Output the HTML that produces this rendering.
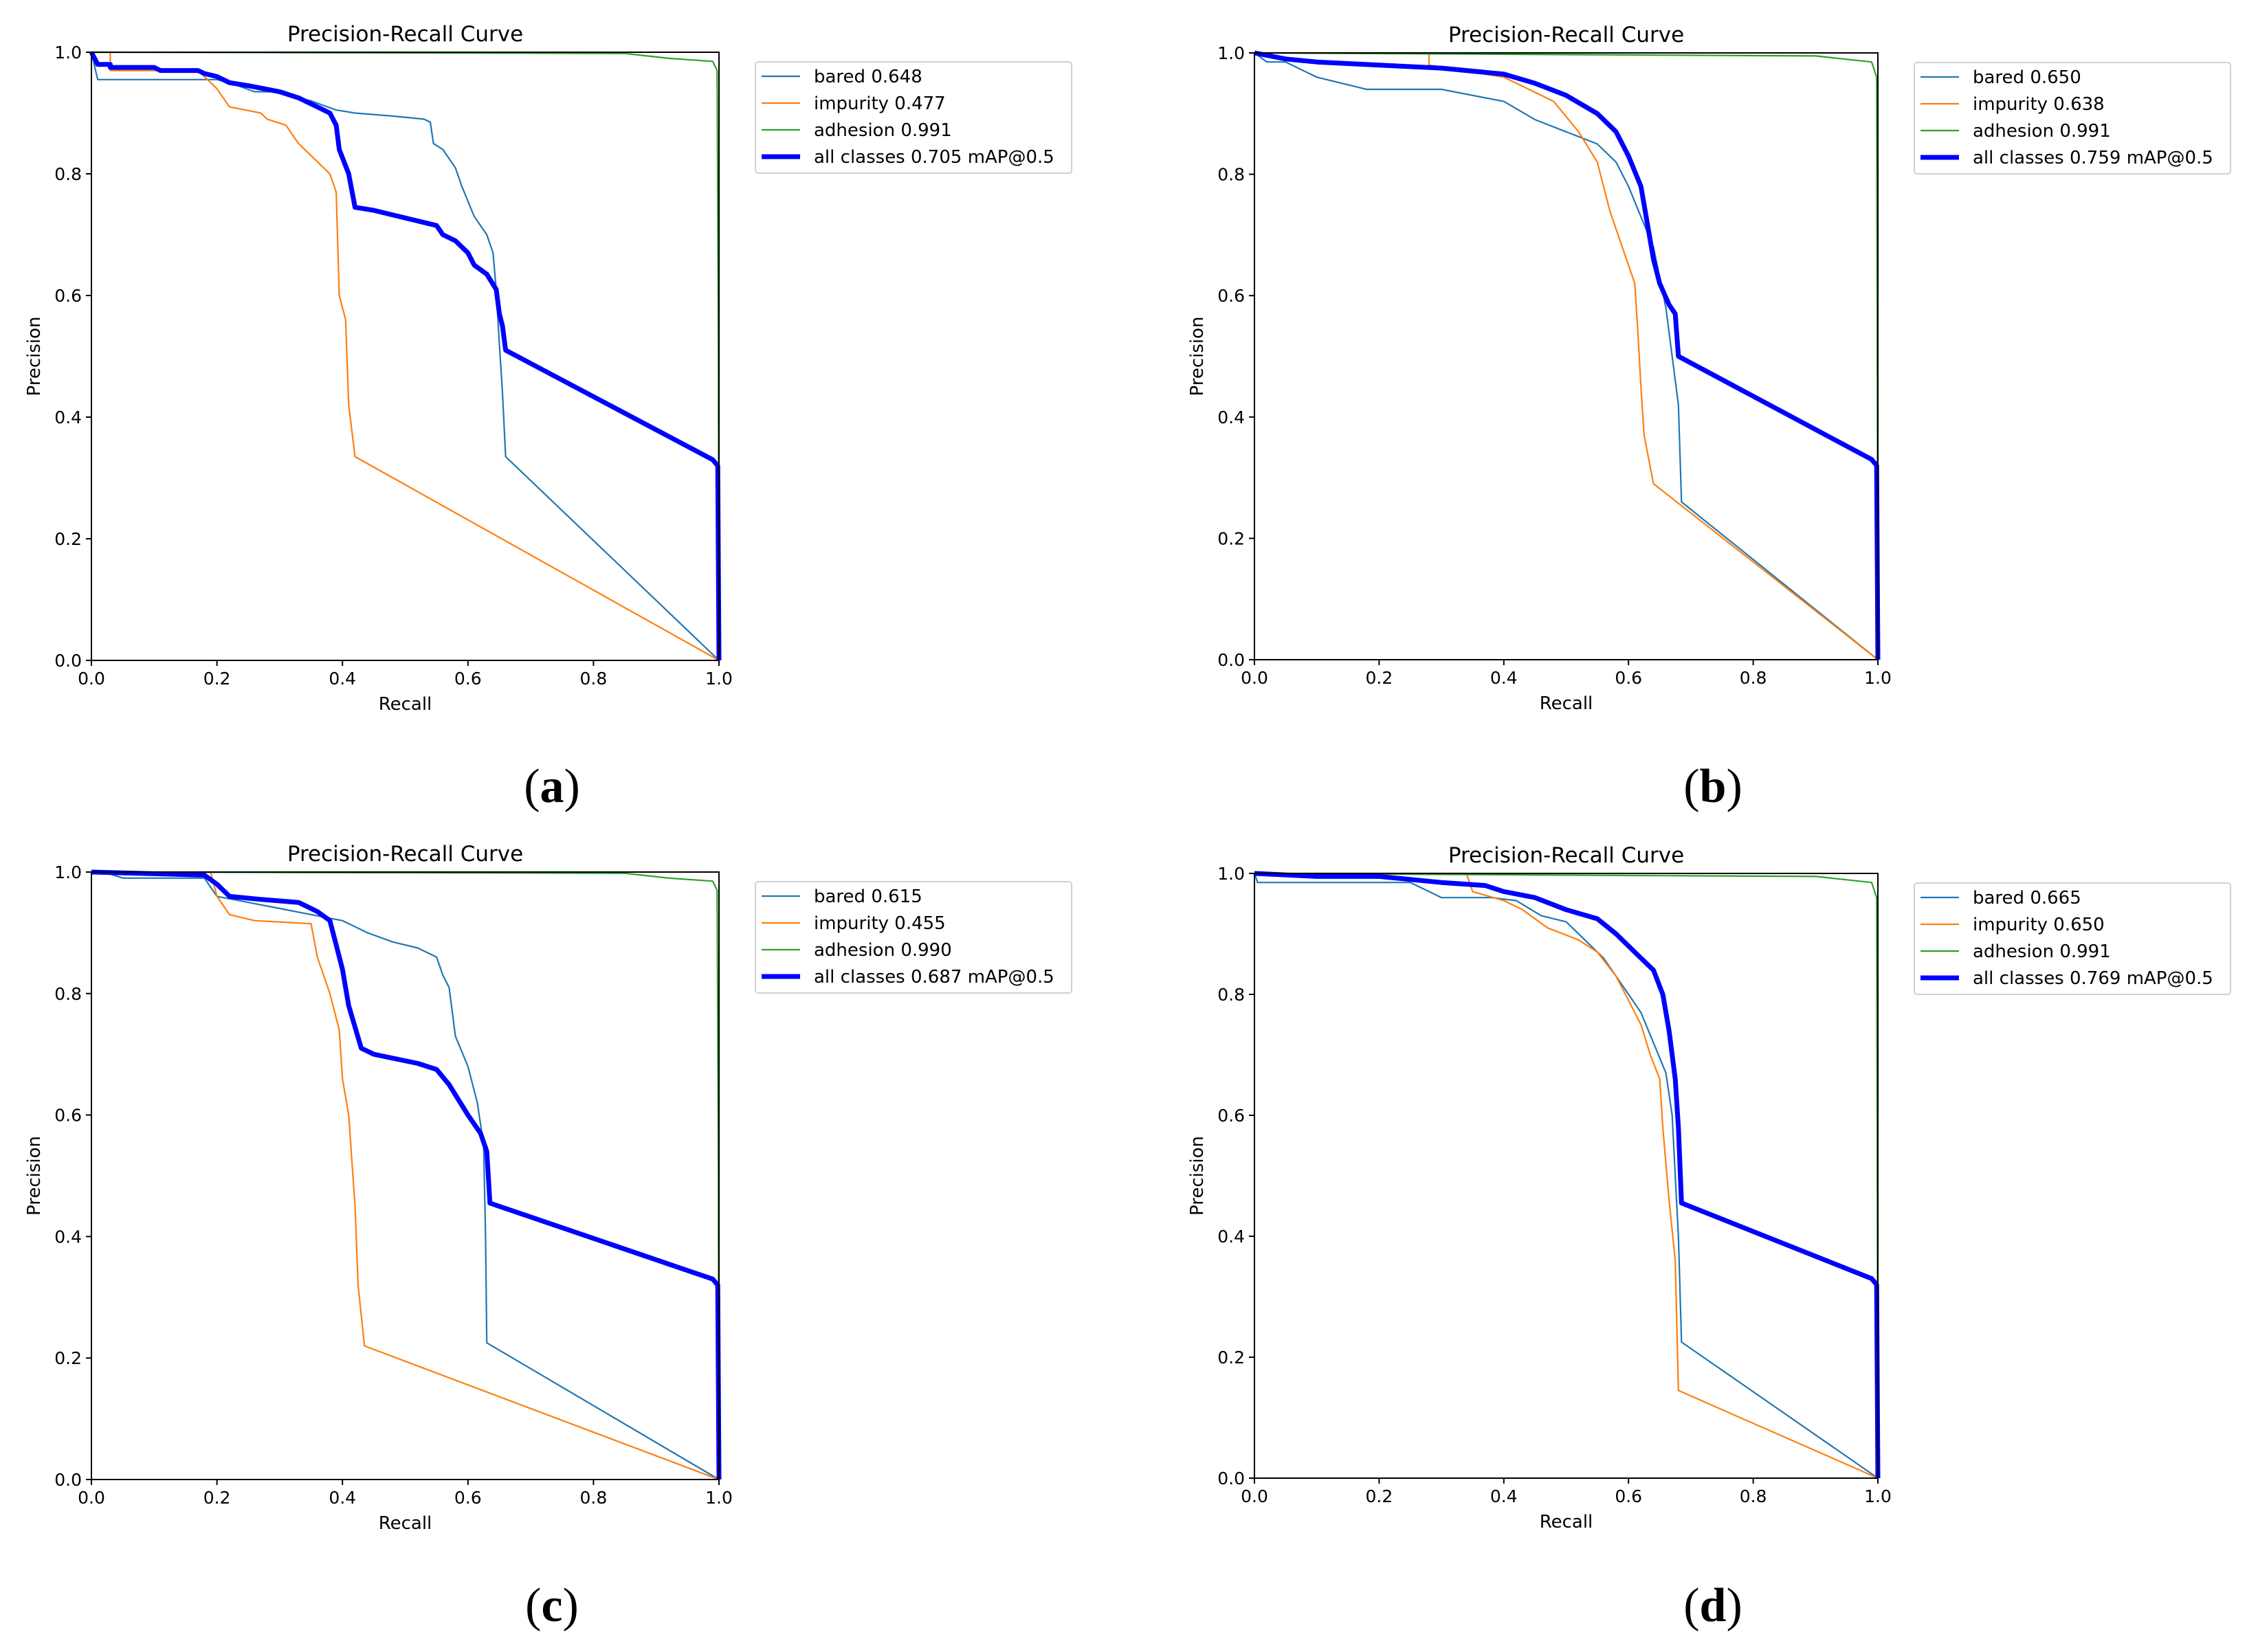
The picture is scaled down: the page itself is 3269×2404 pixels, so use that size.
<!DOCTYPE html>
<html><head><meta charset="utf-8"><style>
html,body{margin:0;padding:0;background:#fff;}
svg{display:block;}
</style></head><body>
<svg id="fig" width="3269" height="2404" viewBox="0 0 3269 2404" xmlns="http://www.w3.org/2000/svg" font-family="'DejaVu Sans','Liberation Sans',sans-serif"></svg>
<script>
const tickLabels = ["0.0","0.2","0.4","0.6","0.8","1.0"];
const tickValues = [0,0.2,0.4,0.6,0.8,1.0];
const seriesNames = ["bared","impurity","adhesion","all classes"];
const seriesColors = ["#1f77b4","#ff7f0e","#2ca02c","#0000ff"];
const panelLetters = ["(a)","(b)","(c)","(d)"];
const legendA = ["bared 0.648","impurity 0.477","adhesion 0.991","all classes 0.705 mAP@0.5"];
const legendB = ["bared 0.650","impurity 0.638","adhesion 0.991","all classes 0.759 mAP@0.5"];
const legendC = ["bared 0.615","impurity 0.455","adhesion 0.990","all classes 0.687 mAP@0.5"];
const legendD = ["bared 0.665","impurity 0.650","adhesion 0.991","all classes 0.769 mAP@0.5"];

// panel a
const aBaredR=[0,0.01,0.2,0.22,0.26,0.3,0.31,0.35,0.39,0.42,0.48,0.53,0.54,0.545,0.56,0.58,0.59,0.61,0.63,0.64,0.645,0.65,0.655,0.66,1.0];
const aBaredP=[1.0,0.955,0.955,0.95,0.935,0.935,0.93,0.92,0.905,0.9,0.895,0.89,0.885,0.85,0.84,0.81,0.78,0.73,0.7,0.67,0.61,0.52,0.44,0.335,0.0];
const aImpR=[0,0.03,0.03,0.17,0.2,0.22,0.27,0.28,0.31,0.33,0.36,0.38,0.39,0.395,0.405,0.41,0.42,1.0];
const aImpP=[1,1,0.97,0.97,0.94,0.91,0.9,0.89,0.88,0.85,0.82,0.8,0.77,0.6,0.56,0.42,0.335,0.0];
const aAdhR=[0,0.85,0.92,0.99,0.997,0.999,1.0];
const aAdhP=[1,0.998,0.99,0.985,0.97,0.5,0.0];
const aAllR=[0,0.01,0.03,0.03,0.1,0.11,0.17,0.18,0.2,0.22,0.25,0.3,0.33,0.36,0.38,0.39,0.395,0.41,0.42,0.45,0.55,0.56,0.58,0.6,0.61,0.63,0.645,0.65,0.655,0.66,0.99,0.998,1.0];
const aAllP=[1,0.98,0.98,0.975,0.975,0.97,0.97,0.965,0.96,0.95,0.945,0.935,0.925,0.91,0.9,0.88,0.84,0.8,0.745,0.74,0.715,0.7,0.69,0.67,0.65,0.635,0.61,0.57,0.55,0.51,0.33,0.32,0.0];
// panel b
const bBaredR=[0,0.02,0.05,0.1,0.18,0.3,0.4,0.45,0.5,0.55,0.58,0.6,0.62,0.64,0.66,0.67,0.68,0.685,1];
const bBaredP=[1,0.985,0.985,0.96,0.94,0.94,0.92,0.89,0.87,0.85,0.82,0.78,0.73,0.68,0.58,0.5,0.42,0.26,0];
const bImpR=[0,0.28,0.28,0.4,0.48,0.52,0.55,0.57,0.59,0.61,0.615,0.62,0.625,0.64,1];
const bImpP=[1,1,0.98,0.96,0.92,0.87,0.82,0.74,0.68,0.62,0.54,0.45,0.37,0.29,0];
const bAdhR=[0,0.9,0.99,0.998,1];
const bAdhP=[1,0.995,0.985,0.96,0];
const bAllR=[0,0.05,0.1,0.2,0.3,0.4,0.45,0.5,0.55,0.58,0.6,0.62,0.63,0.64,0.65,0.665,0.675,0.68,0.99,0.998,1];
const bAllP=[1,0.99,0.985,0.98,0.975,0.965,0.95,0.93,0.9,0.87,0.83,0.78,0.72,0.66,0.62,0.585,0.57,0.5,0.33,0.32,0];
// panel c
const cBaredR=[0,0.02,0.05,0.18,0.2,0.25,0.3,0.35,0.4,0.44,0.48,0.52,0.55,0.56,0.57,0.58,0.6,0.615,0.625,0.628,0.63,1];
const cBaredP=[1,1,0.99,0.99,0.96,0.95,0.94,0.93,0.92,0.9,0.885,0.875,0.86,0.83,0.81,0.73,0.68,0.62,0.55,0.4,0.225,0];
const cImpR=[0,0.19,0.2,0.22,0.26,0.35,0.36,0.38,0.395,0.4,0.41,0.42,0.425,0.435,1];
const cImpP=[1,1,0.96,0.93,0.92,0.915,0.86,0.8,0.74,0.66,0.6,0.45,0.32,0.22,0];
const cAdhR=[0,0.85,0.92,0.99,0.997,0.999,1.0];
const cAdhP=[1,0.998,0.99,0.985,0.97,0.5,0.0];
const cAllR=[0,0.18,0.2,0.22,0.27,0.33,0.36,0.38,0.39,0.4,0.41,0.43,0.45,0.52,0.55,0.57,0.6,0.62,0.63,0.635,0.99,0.998,1];
const cAllP=[1,0.995,0.98,0.96,0.955,0.95,0.935,0.92,0.88,0.84,0.78,0.71,0.7,0.685,0.675,0.65,0.6,0.57,0.54,0.455,0.33,0.32,0];
// panel d
const dBaredR=[0,0.005,0.25,0.28,0.3,0.38,0.42,0.46,0.5,0.53,0.56,0.58,0.6,0.62,0.64,0.66,0.67,0.675,0.68,0.685,1];
const dBaredP=[1,0.985,0.985,0.97,0.96,0.96,0.955,0.93,0.92,0.89,0.86,0.83,0.8,0.77,0.72,0.67,0.6,0.5,0.4,0.225,0];
const dImpR=[0,0.34,0.35,0.4,0.43,0.47,0.52,0.55,0.58,0.6,0.62,0.635,0.65,0.655,0.665,0.675,0.68,1];
const dImpP=[1,1,0.97,0.955,0.94,0.91,0.89,0.87,0.83,0.79,0.75,0.7,0.66,0.58,0.46,0.36,0.145,0];
const dAdhR=[0,0.9,0.99,0.998,1];
const dAdhP=[1,0.995,0.985,0.96,0];
const dAllR=[0,0.1,0.2,0.3,0.37,0.4,0.45,0.5,0.55,0.58,0.62,0.64,0.655,0.665,0.675,0.68,0.685,0.99,0.998,1];
const dAllP=[1,0.995,0.995,0.985,0.98,0.97,0.96,0.94,0.925,0.9,0.86,0.84,0.8,0.74,0.66,0.58,0.455,0.33,0.32,0];

const panels=[
 {L:133,R:1046,T:76,B:961,legend:legendA,series:[[aBaredR,aBaredP],[aImpR,aImpP],[aAdhR,aAdhP],[aAllR,aAllP]],lx:803,ly:1143},
 {L:1825,R:2732,T:77,B:960,legend:legendB,series:[[bBaredR,bBaredP],[bImpR,bImpP],[bAdhR,bAdhP],[bAllR,bAllP]],lx:2492,ly:1143},
 {L:133,R:1046,T:1269,B:2153,legend:legendC,series:[[cBaredR,cBaredP],[cImpR,cImpP],[cAdhR,cAdhP],[cAllR,cAllP]],lx:803,ly:2335},
 {L:1825,R:2732,T:1271,B:2151,legend:legendD,series:[[dBaredR,dBaredP],[dImpR,dImpP],[dAdhR,dAdhP],[dAllR,dAllP]],lx:2492,ly:2335}
];
const NS="http://www.w3.org/2000/svg";
const svg=document.getElementById('fig');
function mk(tag,attrs,parent){const e=document.createElementNS(NS,tag);for(const k in attrs)e.setAttribute(k,attrs[k]);(parent||svg).appendChild(e);return e;}
panels.forEach((p,i)=>{
  const g=mk('g',{});
  
  
  const xs=v=>p.L+v*(p.R-p.L), ys=v=>p.B-v*(p.B-p.T);
  const t=mk('text',{x:(p.L+p.R)/2,y:p.T-16,'text-anchor':'middle','font-size':31,fill:'#000'},g);t.textContent='Precision-Recall Curve';
  
  
  tickValues.forEach((v,k)=>{
    mk('line',{x1:xs(v),x2:xs(v),y1:p.B,y2:p.B+8,stroke:'#000','stroke-width':2},g);
    const tx=mk('text',{x:xs(v),y:p.B+35,'text-anchor':'middle','font-size':25,fill:'#000'},g);tx.textContent=tickLabels[k];
    
    
    mk('line',{x1:p.L-8,x2:p.L,y1:ys(v),y2:ys(v),stroke:'#000','stroke-width':2},g);
    const ty=mk('text',{x:p.L-14,y:ys(v)+9,'text-anchor':'end','font-size':25,fill:'#000'},g);ty.textContent=tickLabels[k];
    
    
  });
  const xl=mk('text',{x:(p.L+p.R)/2,y:p.B+72,'text-anchor':'middle','font-size':26,fill:'#000'},g);xl.textContent='Recall';
  
  
  const cy=(p.T+p.B)/2;
  const yl=mk('text',{x:p.L-75,y:cy,'text-anchor':'middle','font-size':26,fill:'#000',transform:`rotate(-90 ${p.L-75} ${cy})`},g);
  yl.textContent='Precision';
  
  
  p.series.forEach((s,k)=>{
    const pts=s[0].map((r,j)=>xs(r).toFixed(1)+','+ys(s[1][j]).toFixed(1)).join(' ');
    const pl=mk('polyline',{points:pts,fill:'none',stroke:seriesColors[k],'stroke-width':k==3?7:2.2,'stroke-linejoin':'round'},g);
    
    
  });
  mk('rect',{x:p.L,y:p.T,width:p.R-p.L,height:p.B-p.T,fill:'none',stroke:'#000','stroke-width':2},g);
  const lg=mk('g',{},g);
  
  
  const lx=p.R+53, ly=p.T+14;
  mk('rect',{x:lx,y:ly,width:460,height:162,rx:4,fill:'#fff',stroke:'#d0d0d0','stroke-width':2},lg);
  p.legend.forEach((txt,k)=>{
    const yy=ly+21+k*39;
    mk('line',{x1:lx+9,x2:lx+65,y1:yy,y2:yy,stroke:seriesColors[k],'stroke-width':k==3?7:2.2},lg);
    const lt=mk('text',{x:lx+85,y:yy+9,'font-size':26,fill:'#000'},lg);lt.textContent=txt;
    
    
  });
  const pl=mk('text',{x:p.lx,y:p.ly+24,'text-anchor':'middle','font-size':70,'font-family':"'Liberation Serif',serif",fill:'#000'});
  pl.innerHTML='(<tspan font-weight="bold">'+'abcd'[i]+'</tspan>)';
  
  
});
</script>
</body></html>
